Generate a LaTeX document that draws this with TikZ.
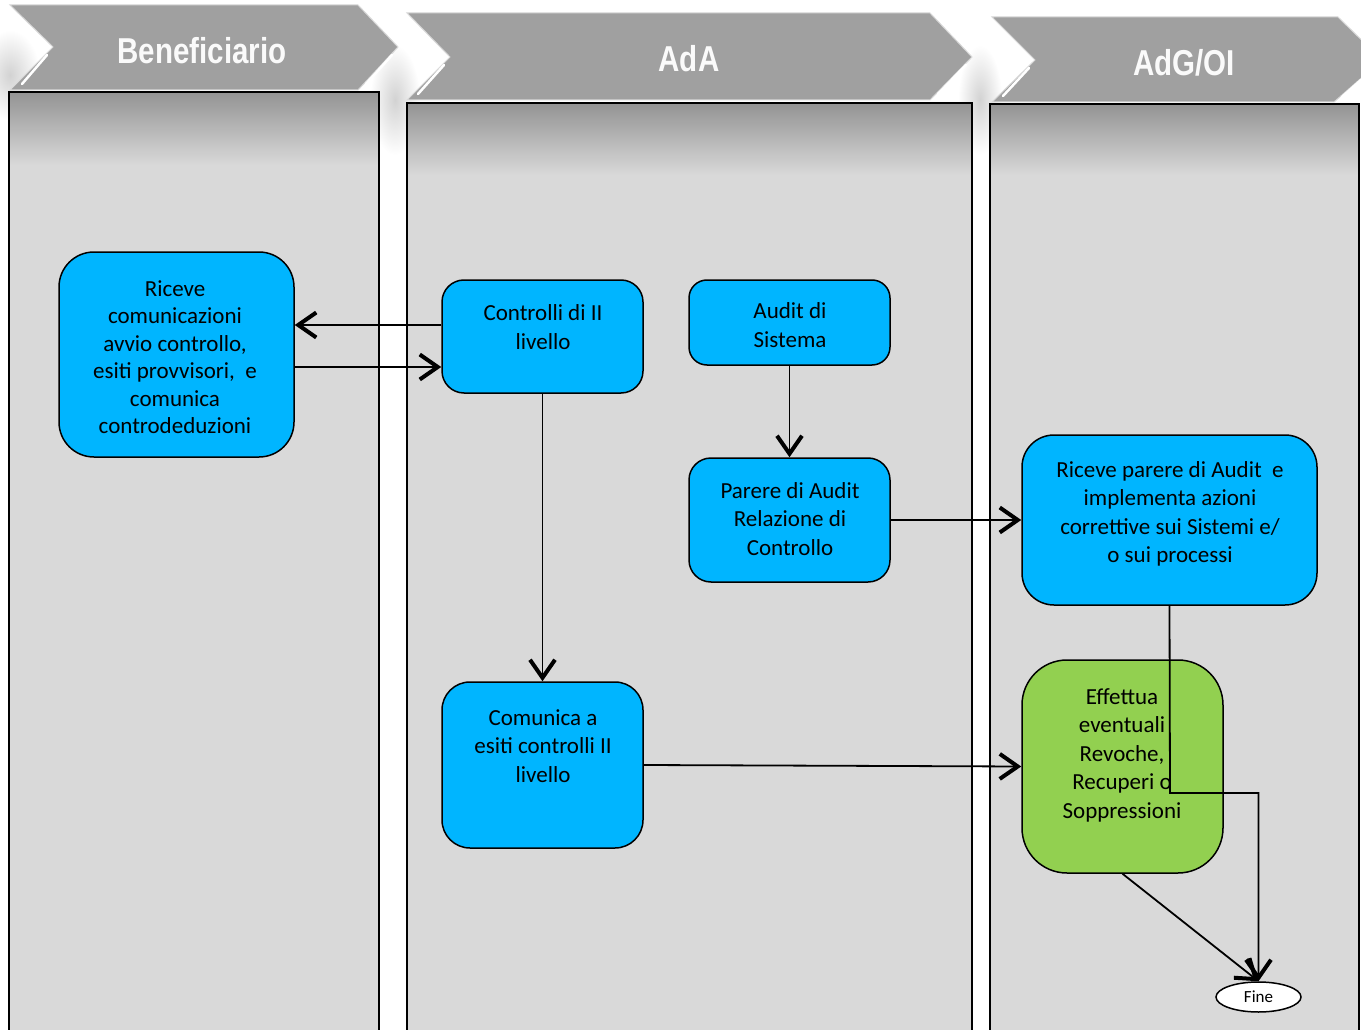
\documentclass[tikz,border=0pt]{standalone}
\usepackage{fontspec}
\setmainfont{Carlito}
\newfontfamily\hdrfont[FakeStretch=0.82]{Liberation Sans}
\usetikzlibrary{arrows.meta,shapes.geometric}
\definecolor{lanegray}{HTML}{D9D9D9}
\definecolor{shadowgray}{HTML}{939393}
\definecolor{boxblue}{HTML}{00B5FF}
\definecolor{boxgreen}{HTML}{92D050}
\definecolor{hdrgray}{HTML}{A0A0A0}
\definecolor{hdredge}{HTML}{D8D8D8}
\begin{document}
\begin{tikzpicture}[x=1pt,y=-1pt,
  lane/.style={draw=black,line width=1.8pt},
  hdrshape/.style={fill=hdrgray,draw=hdredge,line width=1pt},
  bevel/.style={draw=white,line width=2.5pt,line cap=round},
  glow/.style={inner color=gray!35,outer color=white},
  hdrtext/.style={text=white!96!gray,font=\hdrfont\bfseries\fontsize{36}{40}\selectfont},
  box/.style={draw=black,line width=1.5pt,fill=boxblue,inner sep=0pt},
  txt/.style={align=center,font=\fontsize{23}{28.5}\selectfont,inner sep=0pt},
  conn/.style={draw=black,line width=1.8pt,-{Straight Barb[length=18pt,width=25pt,line width=4pt]}}]
\useasboundingbox (0,0) rectangle (1361,1030);
\fill[white] (0,0) rectangle (1361,1030);
\clip (0,0) rectangle (1361,1030);
% soft shadows behind headers
\shade[glow] (10,75) ellipse (30pt and 45pt);
\shade[glow] (395,100) ellipse (25pt and 55pt);
\shade[glow] (980,100) ellipse (22pt and 55pt);
% lanes
\fill[lanegray] (9,92) rectangle (379,1040);
\shade[top color=shadowgray,bottom color=lanegray] (9,92) rectangle (379,165);
\draw[lane] (9,1040) -- (9,92) -- (379,92) -- (379,1040);
\fill[lanegray] (407,103) rectangle (972,1040);
\shade[top color=shadowgray,bottom color=lanegray] (407,103) rectangle (972,175);
\draw[lane] (407,1040) -- (407,103) -- (972,103) -- (972,1040);
\fill[lanegray] (990,104) rectangle (1359,1040);
\shade[top color=shadowgray,bottom color=lanegray] (990,104) rectangle (1359,175);
\draw[lane] (990,1040) -- (990,104) -- (1359,104) -- (1359,1040);
% headers
\path[hdrshape] (10,5) -- (358,5) -- (398,47) -- (358,90) -- (10,90) -- (53,47) -- cycle;
\draw[bevel] (47,55) -- (22,84);
\draw[bevel] (392,55) -- (366,84);
\node[hdrtext] (h1) at (202,51) {Beneficiario};
\path[hdrshape] (407,13) -- (930,13) -- (972,57) -- (930,100) -- (407,100) -- (450,57) -- cycle;
\draw[bevel] (444,65) -- (418,94);
\draw[bevel] (966,65) -- (938,94);
\node[hdrtext] (h2) at (689,59) {AdA};
\path[hdrshape] (992,17) -- (1338,17) -- (1382,60) -- (1334,102) -- (992,102) -- (1035,60) -- cycle;
\draw[bevel] (1029,68) -- (1003,96);
\draw[bevel] (1361,80) -- (1342,97);
\node[hdrtext] (h3) at (1184,63) {AdG/OI};
% boxes
\node[box,minimum width=235pt,minimum height=205pt,rounded corners=35pt] (ben) at (176.5,354.5) {};
\node[txt,font=\fontsize{23}{27.5}\selectfont] (benT) at (175,357) {Riceve\\comunicazioni\\avvio controllo,\\esiti provvisori,~ e\\comunica\\controdeduzioni};
\node[box,minimum width=201pt,minimum height=113pt,rounded corners=22pt] (ctrl) at (542.5,336.5) {};
\node[txt] (ctrlT) at (543,327) {Controlli di II\\livello};
\node[box,minimum width=201pt,minimum height=85pt,rounded corners=18pt] (audit) at (789.5,322.5) {};
\node[txt] (auditT) at (790,325) {Audit di\\Sistema};
\node[box,minimum width=201pt,minimum height=124pt,rounded corners=22pt] (parere) at (789.5,520) {};
\node[txt] (parereT) at (790,519) {Parere di Audit\\Relazione di\\Controllo};
\node[box,minimum width=295pt,minimum height=170pt,rounded corners=32pt] (ricpar) at (1169.5,520) {};
\node[txt] (ricparT) at (1170,514) {Riceve parere di Audit~ e\\implementa azioni\\correttive sui Sistemi e/\\o sui processi};
\node[box,minimum width=201pt,minimum height=166pt,rounded corners=28pt] (comun) at (542.5,765) {};
\node[txt] (comunT) at (543,746) {Comunica a\\esiti controlli II\\livello};
\node[box,fill=boxgreen,minimum width=201pt,minimum height=213pt,rounded corners=45pt] (effett) at (1122.5,766.5) {};
\node[txt] (effettT) at (1122,755) {Effettua\\eventuali\\Revoche,\\Recuperi o\\Soppressioni};
\node[draw=black,line width=1.5pt,fill=white,ellipse,minimum width=85pt,minimum height=30pt,inner sep=0pt,font=\fontsize{17}{20}\selectfont] (fine) at (1258.5,997) {Fine};
% connectors
\draw[conn] ([yshift=11.5pt]ctrl.west) -- ([yshift=11.5pt]ctrl.west -| ben.east);
\draw[conn] ([yshift=-12.5pt]ben.east) -- ([yshift=-12.5pt]ben.east -| ctrl.west);
\draw[conn] (ctrl.south) -- (comun.north);
\draw[conn] (audit.south) -- (parere.north);
\draw[conn] (parere.east) -- (ricpar.west);
\draw[conn] (comun.east) -- (effett.west);
\coordinate (bend) at (1170,793);
\draw[conn] (ricpar.south) -- (bend) -| (fine.north);
\draw[conn] (effett.south) -- (fine.north);
\end{tikzpicture}
\end{document}
